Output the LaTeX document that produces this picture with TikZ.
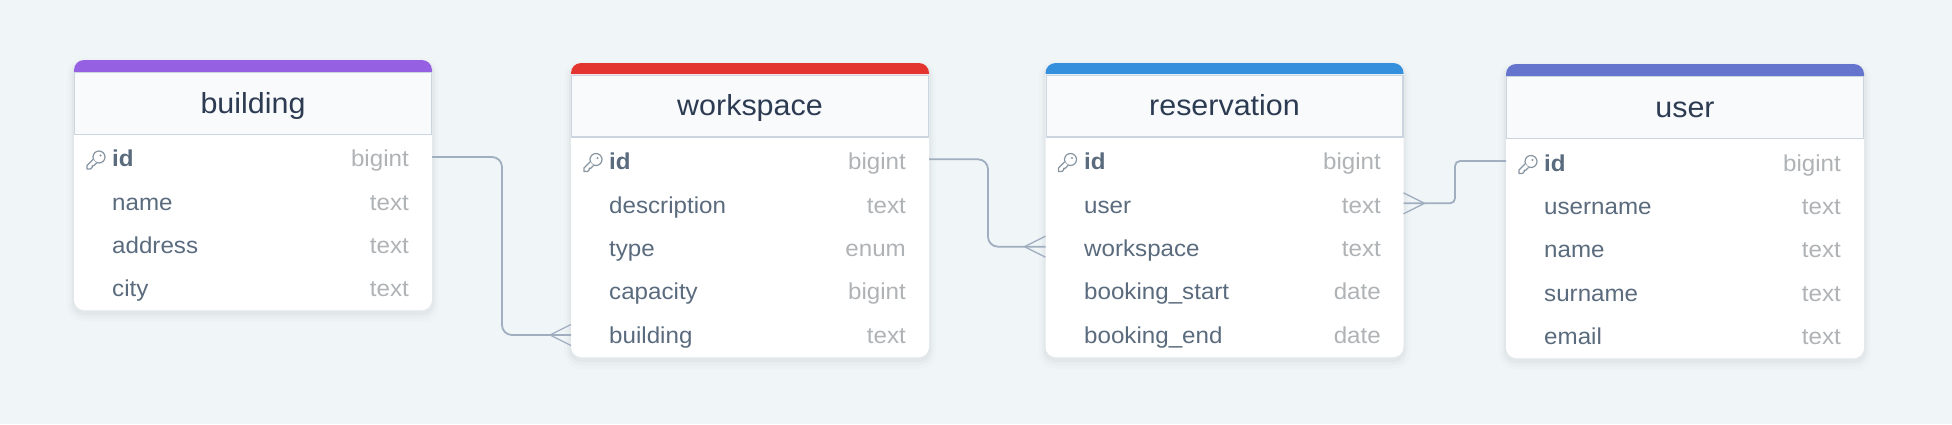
\documentclass[tikz,border=0pt]{standalone}
\usepackage{fontspec}
\setmainfont[FakeStretch=1.05]{Liberation Sans}
\definecolor{pagebg}{HTML}{F0F5F8}
\definecolor{headbg}{HTML}{F8FAFC}
\definecolor{headline}{HTML}{CBD5E0}
\definecolor{titletext}{HTML}{2D3B52}
\definecolor{nametext}{HTML}{5A6B7E}
\definecolor{typetext}{HTML}{B0B3B6}
\definecolor{connline}{HTML}{A0AEC0}
\definecolor{keyline}{HTML}{8795A1}
\definecolor{barpurple}{HTML}{9561E2}
\definecolor{barred}{HTML}{E3342F}
\definecolor{barblue}{HTML}{3490DC}
\definecolor{barindigo}{HTML}{6574CD}
\tikzset{
    cardbox/.style={anchor=north west,minimum width=358,inner sep=0,outer sep=0,fill=white,rounded corners=10,
        preaction={draw=black,draw opacity=.012,line width=14,transform canvas={yshift=-5}},
        preaction={draw=black,draw opacity=.018,line width=8,transform canvas={yshift=-4}},
        preaction={draw=black,draw opacity=.022,line width=4,transform canvas={yshift=-3}}},
    headbox/.style={anchor=north west,minimum width=356.8,minimum height=61.8,inner sep=0,fill=headbg,
        draw=headline,line width=1.2,text=titletext,text height=21,text depth=2,font=\fontsize{29}{32}\selectfont},
    rowbox/.style={minimum width=358,minimum height=30,inner sep=0,outer sep=0},
    fieldname/.style={anchor=base west,inner sep=0,text=nametext,font=\fontsize{23}{26}\selectfont},
    keyname/.style={fieldname,font=\fontsize{23}{26}\selectfont\bfseries},
    fieldtype/.style={anchor=base east,inner sep=0,text=typetext,font=\fontsize{23}{26}\selectfont},
    conn/.style={draw=connline,line width=1.8},
    crowfoot/.style={draw=connline,line width=1.3},
    keyicon/.pic={
        \draw[keyline,line width=1.2] (0,0) circle (6);
        \draw[keyline,line width=1.2,line join=round,fill=white] (-6,2.4) -- (-12,8.4) -- (-12,12)
            -- (-8.6,12) -- (-6.8,10.2) -- (-6.8,8.8) -- (-5.4,8.8) -- (-2.4,6);
        \fill[keyline] (1.5,-1.5) circle (1.2);
    }
}
\begin{document}
\begin{tikzpicture}[x=1pt,y=-1pt]
    \useasboundingbox (0,0) rectangle (1952,424);
    \fill[pagebg] (0,0) rectangle (1952,424);

    % building
    \node[cardbox,minimum height=250] (building card) at (74,60) {};
    \fill[barpurple] (74,72) [rounded corners=10] -- (74,60) -- (432,60) [sharp corners] -- (432,72) -- cycle;
    \node[headbox] (building) at (74,72) {building};
    \node[rowbox] (building id) at (253,157) {};
    \pic at (99,157) {keyicon};
    \node[keyname] (building id name) at (112,166.5) {id};
    \node[fieldtype] (building id type) at (409,166.5) {bigint};
    \node[fieldname] (building name name) at (112,210.5) {name};
    \node[fieldtype] (building name type) at (409,210.5) {text};
    \node[fieldname] (building address name) at (112,253.5) {address};
    \node[fieldtype] (building address type) at (409,253.5) {text};
    \node[fieldname] (building city name) at (112,296.5) {city};
    \node[fieldtype] (building city type) at (409,296.5) {text};

    % workspace
    \node[cardbox,minimum height=294] (workspace card) at (571,63) {};
    \fill[barred] (571,74) [rounded corners=10] -- (571,63) -- (929,63) [sharp corners] -- (929,74) -- cycle;
    \node[headbox] (workspace) at (571,74.5) {workspace};
    \node[rowbox] (workspace id) at (750,159.3) {};
    \pic at (596,159.5) {keyicon};
    \node[keyname] (workspace id name) at (609,169) {id};
    \node[fieldtype] (workspace id type) at (906,169) {bigint};
    \node[fieldname] (workspace description name) at (609,213) {description};
    \node[fieldtype] (workspace description type) at (906,213) {text};
    \node[fieldname] (workspace type name) at (609,256.5) {type};
    \node[fieldtype] (workspace type type) at (906,256.5) {enum};
    \node[fieldname] (workspace capacity name) at (609,299.5) {capacity};
    \node[fieldtype] (workspace capacity type) at (906,299.5) {bigint};
    \node[rowbox] (workspace building) at (750,335) {};
    \node[fieldname] (workspace building name) at (609,343.5) {building};
    \node[fieldtype] (workspace building type) at (906,343.5) {text};

    % reservation
    \node[cardbox,minimum height=294] (reservation card) at (1045.5,63) {};
    \fill[barblue] (1045.5,74) [rounded corners=10] -- (1045.5,63) -- (1403.5,63) [sharp corners] -- (1403.5,74) -- cycle;
    \node[headbox] (reservation) at (1045.5,74.5) {reservation};
    \pic at (1070.5,159.5) {keyicon};
    \node[keyname] (reservation id name) at (1084,169) {id};
    \node[fieldtype] (reservation id type) at (1381,169) {bigint};
    \node[rowbox] (reservation user) at (1224.5,203.3) {};
    \node[fieldname] (reservation user name) at (1084,213) {user};
    \node[fieldtype] (reservation user type) at (1381,213) {text};
    \node[rowbox] (reservation workspace) at (1224.5,246.7) {};
    \node[fieldname] (reservation workspace name) at (1084,256.5) {workspace};
    \node[fieldtype] (reservation workspace type) at (1381,256.5) {text};
    \node[fieldname] (reservation booking_start name) at (1084,299.5) {booking\_start};
    \node[fieldtype] (reservation booking_start type) at (1381,299.5) {date};
    \node[fieldname] (reservation booking_end name) at (1084,343.5) {booking\_end};
    \node[fieldtype] (reservation booking_end type) at (1381,343.5) {date};

    % user
    \node[cardbox,minimum height=294] (user card) at (1506,64) {};
    \fill[barindigo] (1506,76) [rounded corners=10] -- (1506,64) -- (1864,64) [sharp corners] -- (1864,76) -- cycle;
    \node[headbox] (user) at (1506,76) {user};
    \node[rowbox] (user id) at (1685,161) {};
    \pic at (1531,161.5) {keyicon};
    \node[keyname] (user id name) at (1544,171) {id};
    \node[fieldtype] (user id type) at (1841,171) {bigint};
    \node[fieldname] (user username name) at (1544,214.5) {username};
    \node[fieldtype] (user username type) at (1841,214.5) {text};
    \node[fieldname] (user name name) at (1544,257.5) {name};
    \node[fieldtype] (user name type) at (1841,257.5) {text};
    \node[fieldname] (user surname name) at (1544,301.5) {surname};
    \node[fieldtype] (user surname type) at (1841,301.5) {text};
    \node[fieldname] (user email name) at (1544,344.5) {email};
    \node[fieldtype] (user email type) at (1841,344.5) {text};

    % connectors
    \draw[conn,rounded corners=10] (building id.east) -| (502,335) -- (workspace building.west);
    \draw[crowfoot] (workspace building.west) ++(-21,0) -- ++(21,-10.5) ++(-21,10.5) -- ++(21,10.5);
    \draw[conn,rounded corners=10] (workspace id.east) -| (988,246.7) -- (reservation workspace.west);
    \draw[crowfoot] (reservation workspace.west) ++(-21,0) -- ++(21,-10.5) ++(-21,10.5) -- ++(21,10.5);
    \draw[conn,rounded corners=5] (user id.west) -| (1455,203.3) -- (reservation user.east);
    \draw[crowfoot] (reservation user.east) ++(21,0) -- ++(-21,-10.5) ++(21,10.5) -- ++(-21,10.5);
\end{tikzpicture}
\end{document}
